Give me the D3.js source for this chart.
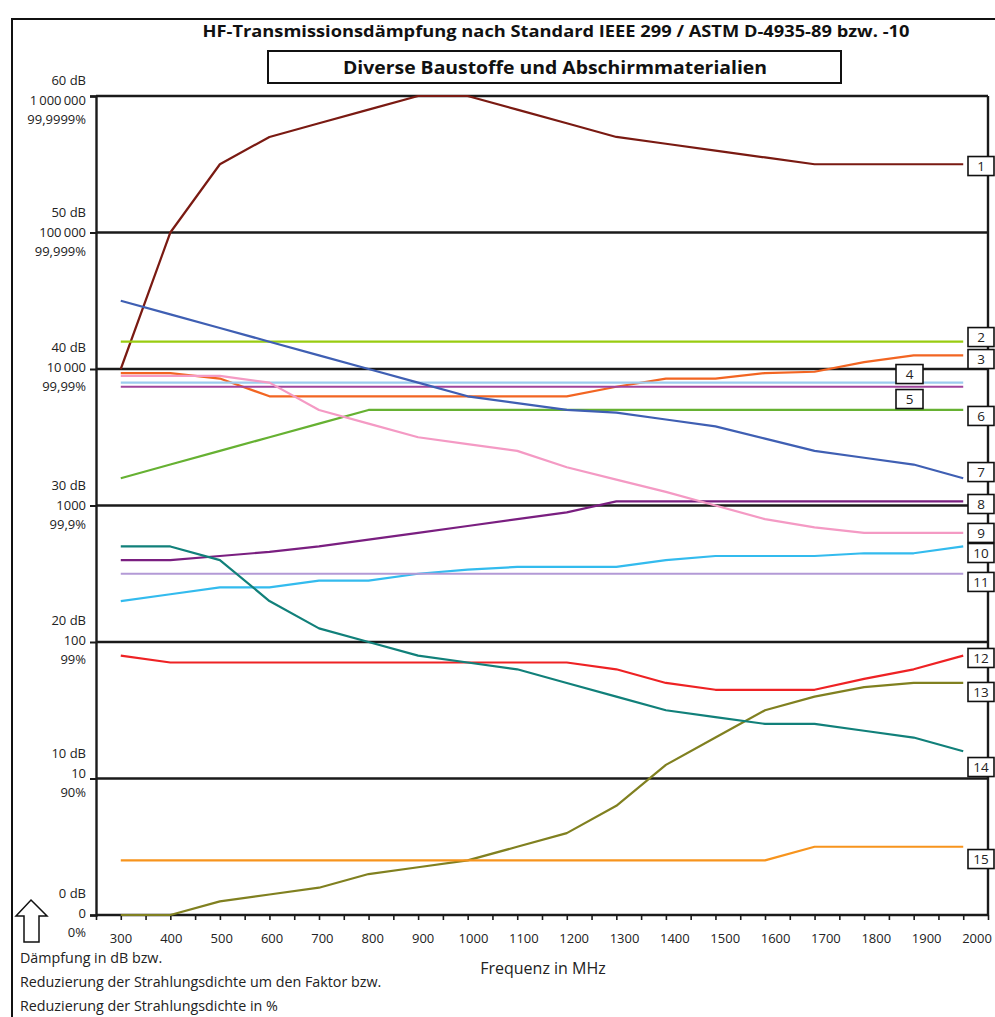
<!DOCTYPE html>
<html><head><meta charset="utf-8">
<script src="https://cdn.jsdelivr.net/npm/d3@7"></script>
<style>body{margin:0;background:#fff}svg{display:block}</style>
</head><body>
<svg id="c" width="995" height="1017"></svg>
<script>
// ---------- DATA ----------
const freqs = [300,400,500,600,700,800,900,1000,1100,1200,1300,1400,1500,1600,1700,1800,1900,2000];
const seriesLabels = ["1","2","3","4","5","6","7","8","9","10","11","12","13","14","15"];
const s1  = [40,50,55,57,58,59,60,60,59,58,57,56.5,56,55.5,55,55,55,55];
const s2  = [42,42,42,42,42,42,42,42,42,42,42,42,42,42,42,42,42,42];
const s3  = [39.7,39.7,39.3,38,38,38,38,38,38,38,38.7,39.3,39.3,39.7,39.8,40.5,41,41];
const s4  = [39,39,39,39,39,39,39,39,39,39,39,39,39,39,39,39,39,39];
const s5  = [38.7,38.7,38.7,38.7,38.7,38.7,38.7,38.7,38.7,38.7,38.7,38.7,38.7,38.7,38.7,38.7,38.7,38.7];
const s6  = [32,33,34,35,36,37,37,37,37,37,37,37,37,37,37,37,37,37];
const s7  = [45,44,43,42,41,40,39,38,37.5,37,36.8,36.3,35.8,34.9,34,33.5,33,32];
const s8  = [26,26,26.3,26.6,27,27.5,28,28.5,29,29.5,30.3,30.3,30.3,30.3,30.3,30.3,30.3,30.3];
const s9  = [39.5,39.5,39.5,39,37,36,35,34.5,34,32.8,31.9,31,30,29,28.4,28,28,28];
const s10 = [23,23.5,24,24,24.5,24.5,25,25.3,25.5,25.5,25.5,26,26.3,26.3,26.3,26.5,26.5,27];
const s11 = [25,25,25,25,25,25,25,25,25,25,25,25,25,25,25,25,25,25];
const s12 = [19,18.5,18.5,18.5,18.5,18.5,18.5,18.5,18.5,18.5,18,17,16.5,16.5,16.5,17.3,18,19];
const s13 = [0,0,1,1.5,2,3,3.5,4,5,6,8,11,13,15,16,16.7,17,17];
const s14 = [27,27,26,23,21,20,19,18.5,18,17,16,15,14.5,14,14,13.5,13,12];
const s15 = [4,4,4,4,4,4,4,4,4,4,4,4,4,4,5,5,5,5];
const seriesValues = [s1,s2,s3,s4,s5,s6,s7,s8,s9,s10,s11,s12,s13,s14,s15];

const dbTicks = [0,10,20,30,40,50,60];
const dbLabels = ["0 dB","10 dB","20 dB","30 dB","40 dB","50 dB","60 dB"];
const factorLabels = ["0","10","100","1000","10\u2009000","100\u2009000","1\u2009000\u2009000"];
const percentLabels = ["0%","90%","99%","99,9%","99,99%","99,999%","99,9999%"];
const xTickLabels = ["300","400","500","600","700","800","900","1000","1100","1200","1300","1400","1500","1600","1700","1800","1900","2000"];

const titleText = "HF-Transmissionsdämpfung nach Standard IEEE 299 / ASTM D-4935-89 bzw. -10";
const subtitleText = "Diverse Baustoffe und Abschirmmaterialien";
const xAxisTitle = "Frequenz in MHz";
const yAxisNotes = ["Dämpfung in dB bzw.","Reduzierung der Strahlungsdichte um den Faktor bzw.","Reduzierung der Strahlungsdichte in %"];

// ---------- STYLE / LAYOUT ----------
const seriesColors = ["#7a1a12","#99cc11","#f26522","#9ccbee","#a0449c","#66b132","#3f5fb3","#7a1f80","#f49ac4","#33bbee","#b39ad6","#ee2224","#808020","#11807a","#f7941d"];
// label box anchor (dB units) and whether the box sits inside the plot
const labelAnchorDb = [54.87,42.34,40.73,39.63,37.8,36.56,32.45,30.11,27.99,26.52,24.4,18.83,16.34,10.84,4.1];
const labelInside = [false,false,false,true,true,false,false,false,false,false,false,false,false,false,false];
// small vertical nudges (px) of the left label groups, per gridline
const leftLabelShift = [-1,-4,-1,1,-1,1,5];

const font = "'Open Sans', 'DejaVu Sans', sans-serif";
const svg = d3.select("#c");

const x = d3.scaleLinear().domain([250,2050]).range([96,988]);
const xLab = d3.scaleLinear().domain([300,2000]).range([121,977]);
const y = d3.scaleLinear().domain([0,60]).range([915,96]);

// outer frame
svg.append("rect").attr("x",12).attr("y",19).attr("width",1000).attr("height",1010)
  .attr("fill","none").attr("stroke","#111").attr("stroke-width",2);

// title
svg.append("text").attr("x",556).attr("y",37).attr("text-anchor","middle")
  .attr("font-family",font).attr("font-weight","bold").attr("font-size",16.5)
  .attr("textLength",707).attr("lengthAdjust","spacingAndGlyphs")
  .attr("fill","#111").text(titleText);
svg.append("rect").attr("x",268).attr("y",51).attr("width",573).attr("height",32)
  .attr("fill","#fff").attr("stroke","#111").attr("stroke-width",2);
svg.append("text").attr("x",555).attr("y",74).attr("text-anchor","middle")
  .attr("font-family",font).attr("font-weight","bold").attr("font-size",18)
  .attr("textLength",424).attr("lengthAdjust","spacingAndGlyphs")
  .attr("fill","#111").text(subtitleText);

// gridlines
svg.append("g").selectAll("line").data(dbTicks).join("line")
  .attr("x1",x(250)).attr("x2",x(2050)).attr("y1",d=>y(d)).attr("y2",d=>y(d))
  .attr("stroke","#1a1a1a").attr("stroke-width",2.4);

// left axis ticks
const gl = svg.append("g").attr("transform",`translate(${x(250)},0)`)
  .call(d3.axisLeft(y).tickValues(dbTicks).tickSize(6).tickFormat(""));
gl.selectAll("path").attr("stroke","#1a1a1a").attr("stroke-width",2.4);
gl.selectAll("line").attr("stroke","#1a1a1a").attr("stroke-width",2);

// right edge
svg.append("line").attr("x1",x(2050)).attr("x2",x(2050)).attr("y1",y(60)).attr("y2",y(0))
  .attr("stroke","#1a1a1a").attr("stroke-width",2.4);

// bottom ticks
const gb = svg.append("g").attr("transform",`translate(0,${y(0)})`)
  .call(d3.axisBottom(x).tickValues(d3.range(250,2051,50)).tickSize(5).tickFormat(""));
gb.select(".domain").remove();
gb.selectAll("line").attr("stroke","#1a1a1a").attr("stroke-width",1.6);

// x labels
svg.append("g").selectAll("text").data(xTickLabels).join("text")
  .attr("x",(d,i)=>xLab(freqs[i])).attr("y",943).attr("text-anchor","middle")
  .attr("font-family",font).attr("font-size",13).attr("fill","#222").text(d=>d);

// left labels
const ll = svg.append("g").attr("font-family",font).attr("font-size",13).attr("fill","#222").attr("text-anchor","end");
dbTicks.forEach((t,i)=>{
  const b = y(t) + leftLabelShift[i];
  ll.append("text").attr("x",86).attr("y",b-16.5).text(dbLabels[i]);
  ll.append("text").attr("x",86).attr("y",b+3.5).text(factorLabels[i]);
  ll.append("text").attr("x",86).attr("y",b+22.5).text(percentLabels[i]);
});

// series lines
const line = d3.line().x((d,i)=>x(freqs[i])).y(d=>y(d));
svg.append("g").selectAll("path").data(seriesValues).join("path")
  .attr("d",d=>line(d)).attr("fill","none")
  .attr("stroke",(d,i)=>seriesColors[i]).attr("stroke-width",2.2)
  .attr("stroke-linejoin","round");

// label boxes
const lb = svg.append("g");
seriesLabels.forEach((lab,i)=>{
  const cy = y(labelAnchorDb[i]);
  const left = labelInside[i] ? 896 : 968;
  const w = labelInside[i] ? 27 : 26;
  lb.append("rect").attr("x",left).attr("y",cy-9.5).attr("width",w).attr("height",19)
    .attr("fill","#fff").attr("stroke","#111").attr("stroke-width",1.6);
  lb.append("text").attr("x",left+w/2).attr("y",cy+5).attr("text-anchor","middle")
    .attr("font-family",font).attr("font-size",13.5).attr("fill","#222").text(lab);
});

// arrow
const ap = d3.path();
ap.moveTo(31,900); ap.lineTo(47,916); ap.lineTo(39,916); ap.lineTo(39,942);
ap.lineTo(24,942); ap.lineTo(24,916); ap.lineTo(16,916); ap.closePath();
svg.append("path").attr("d",ap.toString()).attr("fill","#fff").attr("stroke","#111").attr("stroke-width",1.5);

// notes
svg.append("g").selectAll("text").data(yAxisNotes).join("text")
  .attr("x",20).attr("y",(d,i)=>963+i*24)
  .attr("font-family",font).attr("font-size",14.3).attr("fill","#222").text(d=>d);

svg.append("text").attr("x",543).attr("y",974).attr("text-anchor","middle")
  .attr("font-family",font).attr("font-size",16).attr("fill","#222").text(xAxisTitle);
</script>
</body></html>
